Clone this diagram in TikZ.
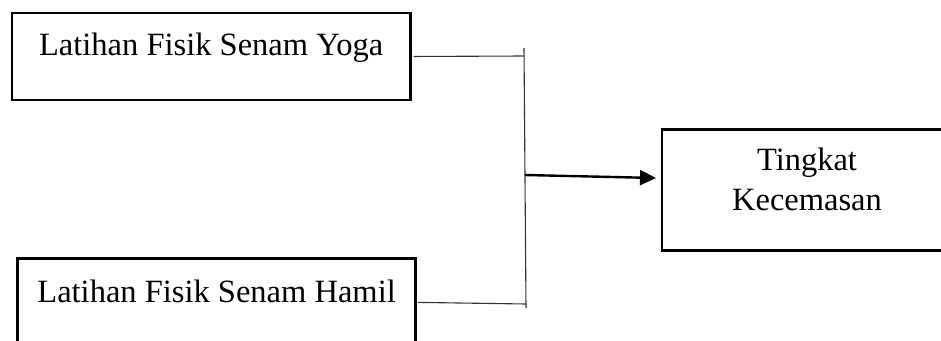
\documentclass[tikz,border=0pt]{standalone}
\usepackage{fontspec}
\setmainfont{Liberation Serif}
\usetikzlibrary{arrows.meta}
\tikzset{
  box/.style={draw=black, line width=2.6pt, rectangle, inner sep=0pt, outer sep=0pt,
    font=\fontsize{32.5pt}{40pt}\selectfont, align=center},
  txt/.style={inner sep=0pt, outer sep=0pt, font=\fontsize{32.5pt}{40pt}\selectfont, align=center},
  conn/.style={draw=black!80, line width=1.1pt},
  arr/.style={draw=black, line width=2.4pt, -{Triangle[length=16pt,width=15pt]}}
}
\begin{document}
\begin{tikzpicture}[x=1pt,y=-1pt]
\useasboundingbox (0,0) rectangle (941,340);
\clip (0,0) rectangle (941,340);
% boxes
\node[box, anchor=north, minimum width=398.5pt, text height=42pt, text depth=45pt]
  (yoga) at (211.25,13) {Latihan Fisik Senam Yoga};
\node[box, anchor=north, minimum width=398.2pt, text height=43.3pt, text depth=44pt]
  (hamil) at (216.6,258.7) {Latihan Fisik Senam Hamil};
\node[box, anchor=north west, minimum width=290pt, minimum height=121.2pt]
  (tk) at (662,129.5) {};
\node[txt, anchor=north] (tktext) at (807,148.2) {Tingkat\\Kecemasan};
% junction coordinates
\coordinate (bt) at (524,48);
\coordinate (bb) at (526,308);
\coordinate (j1) at (524,56);
\coordinate (j2) at (526,304);
\coordinate (ja) at (525,175);
\coordinate (ta) at (656,178);
% connectors
\draw[conn, shorten <=3pt] (yoga.east) -- (j1);
\draw[conn, shorten <=2pt] (hamil.east) -- (j2);
\draw[conn] (bt) -- (bb);
\draw[arr] (ja) -- (ta);
\end{tikzpicture}
\end{document}
